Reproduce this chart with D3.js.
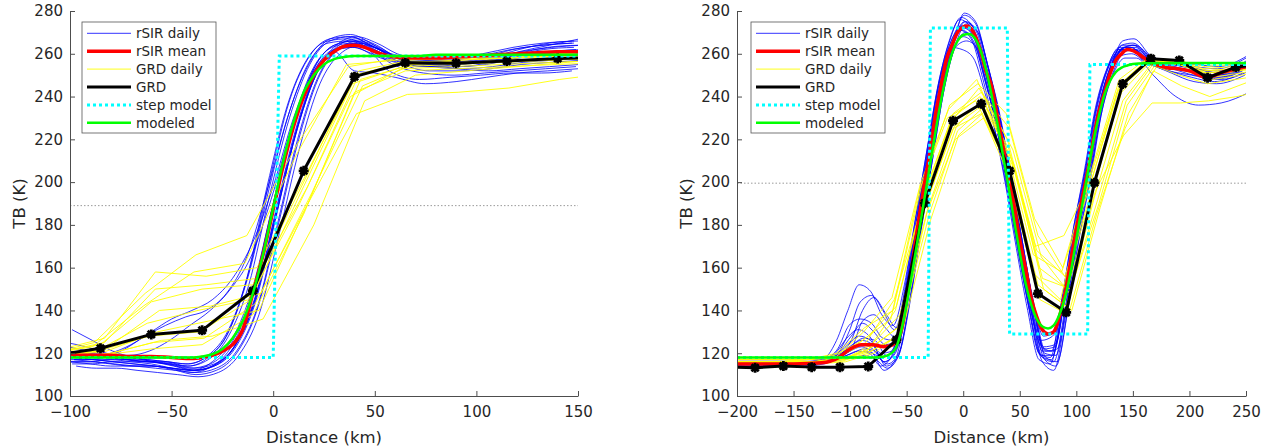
<!DOCTYPE html>
<html>
<head>
<meta charset="utf-8">
<script src="https://cdn.jsdelivr.net/npm/d3@7"></script>
<style>
  body { margin: 0; background: #fff; }
  svg { display: block; font-family: "DejaVu Sans", sans-serif; }
</style>
</head>
<body>
<svg id="chart" width="1271" height="448"></svg>
<script>
// ---- shared axis data ----
const yTicks = [100, 120, 140, 160, 180, 200, 220, 240, 260, 280];
const leftXTicks = [-100, -50, 0, 50, 100, 150];
const rightXTicks = [-200, -150, -100, -50, 0, 50, 100, 150, 200, 250];
const legendLabels = ['rSIR daily', 'rSIR mean', 'GRD daily', 'GRD', 'step model', 'modeled'];

// ---- left panel (single edge) ----
const leftThreshold = 189;
const leftStepX = [-100, 0, 3, 150];
const leftStepY = [118, 118, 259, 259];

const leftMeanX = [-100, -90, -80, -70, -60, -50, -40, -35, -30, -25, -20, -15, -10, -5, 0, 5, 10, 15, 20, 25, 30, 35, 40, 45, 50, 55, 60, 70, 80, 90, 100, 110, 120, 130, 140, 150];
const leftMeanY = [119, 119, 119, 118.5, 118.5, 118, 117.5, 118, 119, 121, 124, 131, 148, 166, 187, 208, 226, 240, 250, 257, 261, 263.5, 264, 263, 261, 259.5, 258.5, 258, 258, 258.5, 259, 259.5, 260, 260.5, 261, 261];
const leftModelY = [118, 118, 118, 118, 118, 118, 118, 118.5, 119.5, 122, 127, 135, 148, 166, 188, 210, 228, 242, 250, 255, 257.5, 258.5, 259, 259, 259, 259, 259, 259, 259.5, 259.5, 259.5, 259.5, 259.5, 259.5, 259.5, 259.5];

const leftGrdX = [-110, -85, -60, -35, -10, 15, 40, 65, 90, 115, 140, 165];
const leftGrdY = [118.7, 122.3, 128.8, 130.7, 149.2, 205.3, 249.3, 255.8, 255.6, 256.6, 257.8, 258.5];

// rSIR daily profiles, sampled on leftDailyX (shifted per day)
const leftDailyX = [-100, -90, -80, -70, -60, -50, -40, -30, -20, -10, 0, 10, 20, 30, 40, 50, 60, 75, 90, 105, 120, 135, 150];
const leftDailyShift = [1, -2, 2, 0, -1, 0, -3, 3, 1, -2, 2, -1, 0, -3, 1, 2, -2, 0];
const leftDaily = [
  [131, 126, 121, 118, 116, 114, 112, 114, 122, 143, 182, 222, 250, 264, 268, 265, 260, 257, 256, 258, 262, 265, 266],
  [125, 123, 120, 118, 117, 116, 114, 117, 128, 152, 193, 230, 255, 266, 268, 264, 259, 256, 256, 258, 262, 264, 265],
  [118, 117, 116, 115, 114, 112, 110, 112, 120, 140, 178, 218, 248, 262, 266, 263, 258, 255, 254, 256, 259, 261, 262],
  [116, 116, 117, 116, 115, 113, 111, 114, 124, 148, 188, 226, 253, 264, 266, 262, 257, 255, 255, 257, 260, 263, 264],
  [121, 120, 119, 119, 121, 126, 133, 140, 150, 165, 192, 225, 250, 261, 263, 260, 257, 256, 256, 258, 260, 261, 262],
  [119, 118, 120, 124, 130, 136, 140, 145, 155, 172, 198, 230, 252, 262, 263, 259, 256, 254, 254, 255, 258, 259, 260],
  [117, 117, 118, 122, 128, 133, 137, 140, 148, 165, 196, 230, 255, 265, 266, 263, 259, 257, 257, 259, 262, 264, 265],
  [114, 113, 113, 112, 111, 110, 109, 111, 119, 138, 176, 216, 246, 260, 264, 262, 257, 254, 253, 254, 256, 257, 258],
  [115, 115, 116, 116, 116, 115, 113, 115, 123, 145, 185, 223, 251, 263, 267, 264, 258, 255, 253, 252, 253, 254, 255],
  [120, 119, 118, 117, 116, 115, 114, 118, 130, 157, 197, 233, 256, 267, 269, 265, 259, 256, 255, 256, 259, 262, 263],
  [117, 116, 115, 114, 113, 112, 111, 113, 121, 141, 180, 220, 249, 262, 265, 262, 256, 252, 252, 253, 255, 256, 257],
  [123, 121, 119, 117, 116, 115, 113, 115, 124, 146, 186, 225, 252, 263, 265, 261, 255, 251, 250, 251, 252, 253, 254],
  [116, 115, 114, 114, 114, 113, 112, 116, 127, 151, 190, 227, 253, 264, 266, 263, 258, 256, 256, 257, 258, 260, 261],
  [119, 118, 118, 117, 116, 116, 115, 118, 128, 155, 198, 236, 258, 266, 267, 262, 252, 248, 249, 250, 251, 251, 252],
  [118, 117, 116, 115, 114, 113, 112, 114, 123, 144, 183, 222, 250, 262, 264, 261, 256, 254, 255, 257, 261, 264, 267],
  [117, 117, 117, 117, 116, 114, 112, 115, 125, 149, 187, 226, 252, 263, 265, 262, 258, 257, 257, 258, 261, 263, 264],
  [121, 120, 119, 118, 117, 116, 115, 119, 131, 158, 200, 238, 259, 267, 268, 264, 260, 258, 258, 260, 263, 265, 266],
  [116, 116, 115, 114, 114, 113, 112, 114, 122, 142, 181, 221, 249, 261, 252, 251, 249, 246, 247, 249, 251, 252, 253]
];

// GRD daily profiles, sampled on leftGrdX shifted per day
const leftGrdShift = [0, 2, -3, 4, -2, 1, 3, -4, 0, 2, -1, 5];
const leftGrdDaily = [
  [120, 124, 144, 150, 152, 200, 250, 256, 257, 258, 259, 260],
  [121, 127, 158, 156, 160, 205, 252, 257, 258, 258, 259, 260],
  [119, 125, 148, 166, 175, 218, 254, 258, 258, 259, 260, 261],
  [118, 123, 140, 142, 148, 195, 245, 255, 256, 257, 258, 259],
  [118, 121, 134, 140, 145, 190, 240, 253, 254, 255, 256, 257],
  [117, 119, 125, 127, 143, 188, 232, 241, 242, 244, 248, 251],
  [118, 121, 130, 135, 140, 192, 248, 255, 257, 258, 260, 262],
  [119, 123, 142, 158, 162, 212, 255, 257, 258, 258, 259, 259],
  [117, 119, 122, 124, 138, 185, 242, 252, 253, 254, 255, 256],
  [120, 125, 150, 152, 155, 198, 250, 256, 256, 257, 258, 258],
  [118, 121, 128, 130, 145, 196, 246, 254, 255, 256, 257, 258],
  [118, 120, 126, 128, 136, 180, 238, 250, 252, 254, 256, 258]
];

// ---- right panel (bright strip and dark strip) ----
const rightThreshold = 199.5;
const rightStepX = [-200, -31, -29, 39, 41, 110, 112, 250];
const rightStepY = [118, 118, 272, 272, 129, 129, 255, 255];

const rightMeanX = [-200, -175, -150, -125, -110, -100, -90, -80, -70, -62, -55, -50, -45, -40, -35, -30, -25, -20, -15, -10, -5, 0, 3, 8, 15, 20, 25, 30, 35, 40, 45, 50, 55, 60, 65, 70, 75, 80, 85, 90, 95, 100, 105, 110, 115, 120, 125, 130, 135, 140, 145, 150, 160, 170, 180, 190, 200, 215, 230, 250];
const rightMeanY = [115, 115, 115, 115.5, 118, 122, 124, 124, 123, 124, 130, 145, 162, 180, 197, 212, 230, 244, 257, 264, 270, 272.5, 273, 271, 262, 252, 245, 231, 217, 203, 189, 173, 160, 146, 137, 131, 129, 130, 137, 148, 163, 178, 192, 205, 220, 233, 242, 251, 257, 260, 262, 261.5, 258, 255, 253.5, 253, 252, 249, 251.5, 254];

const rightModelX = [-200, -100, -80, -70, -65, -60, -55, -50, -45, -40, -35, -30, -25, -20, -15, -10, -5, 0, 5, 10, 15, 20, 25, 30, 35, 40, 45, 50, 55, 60, 65, 70, 75, 80, 85, 90, 95, 100, 105, 110, 115, 120, 125, 130, 135, 140, 145, 150, 160, 250];
const rightModelY = [118, 118, 118, 118.5, 119.5, 122, 130, 143, 158, 174, 190, 206, 222, 237, 250, 260, 266, 268.8, 269.3, 267.5, 262, 253, 241, 228, 213, 198, 182, 167, 153, 143, 136, 132.5, 131.6, 133, 138, 146, 158, 173, 189, 204, 219, 231, 241, 247.5, 251.5, 253.5, 254.5, 255.2, 255.6, 255.7];

const rightGrdX = [-209, -184, -159, -134, -109, -84, -59, -34, -9, 16, 41, 66, 91, 116, 141, 166, 191, 216, 241, 266];
const rightGrdY = [113.5, 113.2, 114, 113.5, 113.5, 113.8, 126.3, 190.2, 228.7, 236.6, 205.3, 147.9, 139.1, 199.7, 245.9, 257.7, 256.9, 248.8, 253.8, 255];

const rightDailyX = [-200, -170, -140, -120, -110, -100, -90, -80, -70, -60, -50, -40, -30, -20, -10, 0, 10, 20, 30, 40, 50, 60, 70, 80, 90, 100, 110, 120, 130, 140, 150, 165, 185, 205, 225, 250];
const rightDailyShift = [-2, 1, 3, -1, 2, -3, 0, 1, -2, 3, 0, -1, 2, -3, 1, 0];
const rightDaily = [
  [114, 114, 115, 118, 126, 140, 152, 149, 138, 133, 152, 184, 215, 246, 266, 277, 273, 255, 232, 205, 174, 146, 124, 121, 148, 180, 206, 236, 254, 263, 263, 257, 254, 252, 250, 255],
  [116, 116, 116, 117, 119, 126, 140, 146, 139, 132, 150, 183, 214, 245, 265, 275, 271, 253, 231, 203, 172, 144, 122, 123, 150, 182, 207, 235, 253, 262, 262, 257, 255, 253, 251, 256],
  [115, 115, 115, 116, 117, 118, 119, 117, 113, 119, 144, 178, 211, 243, 264, 274, 270, 252, 230, 200, 170, 140, 118, 116, 142, 175, 203, 234, 252, 261, 262, 256, 253, 251, 248, 252],
  [117, 117, 117, 118, 122, 133, 136, 134, 127, 126, 148, 181, 213, 244, 263, 271, 266, 248, 227, 199, 168, 141, 126, 128, 146, 177, 204, 232, 250, 259, 260, 255, 253, 250, 249, 253],
  [115, 115, 115, 116, 118, 120, 122, 121, 114, 118, 143, 177, 210, 242, 262, 270, 265, 246, 224, 196, 165, 138, 117, 114, 139, 173, 202, 233, 253, 263, 264, 258, 254, 251, 249, 254],
  [116, 116, 116, 117, 120, 127, 131, 128, 120, 121, 146, 180, 212, 243, 265, 276, 272, 254, 232, 204, 173, 144, 120, 118, 144, 177, 205, 235, 253, 262, 262, 256, 252, 250, 248, 252],
  [114, 114, 114, 116, 118, 121, 123, 120, 112, 117, 142, 176, 209, 241, 261, 268, 264, 246, 225, 198, 168, 140, 116, 112, 136, 170, 200, 232, 252, 262, 264, 258, 255, 253, 252, 256],
  [117, 117, 117, 118, 121, 128, 134, 130, 124, 126, 149, 182, 214, 245, 266, 278, 274, 256, 234, 206, 176, 147, 128, 130, 151, 183, 208, 237, 255, 264, 264, 258, 255, 253, 251, 257],
  [115, 115, 115, 117, 119, 124, 128, 126, 118, 122, 147, 180, 212, 244, 264, 273, 269, 251, 229, 202, 171, 142, 119, 117, 143, 176, 204, 234, 253, 262, 263, 257, 254, 252, 250, 255],
  [116, 116, 116, 117, 118, 119, 121, 119, 115, 120, 145, 179, 211, 243, 263, 266, 262, 245, 224, 198, 168, 141, 121, 122, 149, 180, 206, 234, 251, 258, 258, 250, 240, 236, 237, 242],
  [116, 116, 116, 117, 119, 123, 126, 124, 116, 120, 146, 180, 213, 245, 265, 272, 268, 250, 228, 201, 170, 141, 118, 116, 141, 175, 204, 235, 254, 264, 265, 259, 256, 254, 253, 258],
  [115, 115, 116, 117, 120, 130, 144, 147, 140, 131, 149, 182, 213, 244, 263, 262, 258, 242, 222, 196, 166, 139, 119, 119, 145, 177, 205, 234, 252, 261, 262, 256, 251, 247, 246, 250],
  [117, 117, 117, 118, 120, 124, 127, 126, 119, 123, 148, 181, 212, 244, 265, 275, 271, 253, 231, 204, 173, 143, 120, 119, 145, 177, 205, 235, 254, 263, 263, 256, 253, 251, 250, 254],
  [114, 114, 114, 115, 117, 119, 121, 120, 114, 119, 143, 177, 210, 242, 263, 271, 267, 249, 227, 200, 169, 140, 117, 115, 140, 174, 203, 233, 252, 261, 262, 256, 252, 249, 247, 251],
  [116, 116, 116, 117, 119, 122, 135, 138, 132, 127, 147, 180, 212, 243, 264, 279, 275, 256, 233, 205, 174, 145, 123, 124, 150, 181, 207, 236, 254, 266, 267, 259, 256, 255, 254, 259],
  [115, 115, 115, 116, 118, 121, 124, 122, 116, 121, 146, 180, 212, 244, 264, 273, 270, 252, 231, 203, 172, 143, 121, 121, 147, 179, 206, 235, 253, 262, 262, 257, 254, 252, 250, 254]
];

const rightGrdShift = [0, 3, -3, 5, -5, 2, -2, 4, 0, -4, 1, -1];
const rightGrdDaily = [
  [115, 115, 115, 116, 118, 128, 142, 195, 232, 242, 225, 175, 155, 198, 245, 257, 256, 252, 253, 255],
  [116, 116, 116, 116, 117, 124, 138, 188, 226, 240, 215, 165, 148, 192, 238, 256, 255, 250, 252, 254],
  [117, 117, 117, 117, 120, 132, 140, 198, 236, 246, 232, 183, 160, 205, 248, 258, 257, 253, 254, 255],
  [115, 115, 115, 115, 116, 120, 130, 182, 222, 234, 205, 150, 140, 188, 232, 254, 252, 248, 250, 252],
  [116, 116, 116, 117, 119, 126, 136, 196, 230, 238, 212, 158, 145, 200, 242, 257, 256, 251, 252, 253],
  [116, 116, 116, 116, 117, 121, 128, 186, 220, 230, 200, 145, 138, 185, 225, 252, 245, 240, 245, 250],
  [117, 117, 117, 117, 118, 125, 145, 190, 228, 244, 220, 170, 175, 202, 246, 258, 257, 254, 255, 256],
  [115, 115, 115, 116, 117, 123, 133, 185, 224, 236, 208, 155, 150, 190, 236, 255, 253, 249, 251, 253],
  [116, 116, 116, 116, 116, 120, 128, 188, 225, 232, 206, 152, 142, 193, 238, 255, 250, 246, 248, 250],
  [116, 116, 116, 117, 118, 130, 146, 199, 234, 248, 218, 166, 158, 198, 244, 257, 256, 252, 253, 254],
  [116, 116, 116, 116, 117, 122, 132, 190, 226, 236, 212, 160, 150, 196, 222, 237, 237, 238, 240, 243],
  [116, 116, 116, 116, 117, 121, 140, 194, 230, 240, 216, 168, 156, 198, 242, 256, 255, 251, 252, 254]
];

// ---- drawing ----
const svg = d3.select('#chart');
const plotTop = 11, plotBottom = 396;
const axisColor = '#4d4d4d', textColor = '#262626';

const panels = [
  {
    id: 'left', x0: 70, x1: 578, domain: [-100, 150], xTicks: leftXTicks, legendX: 82,
    threshold: leftThreshold, stepX: leftStepX, stepY: leftStepY,
    meanX: leftMeanX, meanY: leftMeanY, modelX: leftMeanX, modelY: leftModelY,
    grdX: leftGrdX, grdY: leftGrdY, dailyX: leftDailyX, dailyShift: leftDailyShift, daily: leftDaily,
    grdShift: leftGrdShift, grdDaily: leftGrdDaily
  },
  {
    id: 'right', x0: 737, x1: 1246, domain: [-200, 250], xTicks: rightXTicks, legendX: 751,
    threshold: rightThreshold, stepX: rightStepX, stepY: rightStepY,
    meanX: rightMeanX, meanY: rightMeanY, modelX: rightModelX, modelY: rightModelY,
    grdX: rightGrdX, grdY: rightGrdY, dailyX: rightDailyX, dailyShift: rightDailyShift, daily: rightDaily,
    grdShift: rightGrdShift, grdDaily: rightGrdDaily
  }
];

// zip x and y lists into point pairs
function pairs(xs, ys) {
  return xs.map((x, i) => [x, ys[i]]);
}

// asterisk marker like matlab '*'
function starPath(r) {
  const d = r * 0.72;
  return `M${-r},0H${r}M0,${-r}V${r}M${-d},${-d}L${d},${d}M${-d},${d}L${d},${-d}`;
}

const styles = {
  daily: { stroke: '#0000ff', width: 0.8 },
  mean: { stroke: '#ff0000', width: 3.5 },
  grdDaily: { stroke: '#ffff00', width: 0.9 },
  grd: { stroke: '#000000', width: 3 },
  step: { stroke: '#00ffff', width: 3, dash: '3,3' },
  model: { stroke: '#00ff00', width: 2.5 }
};

panels.forEach(p => {
  const x = d3.scaleLinear().domain(p.domain).range([p.x0, p.x1]);
  const y = d3.scaleLinear().domain([100, 280]).range([plotBottom, plotTop]);

  const g = svg.append('g');

  svg.append('defs').append('clipPath').attr('id', 'clip-' + p.id)
    .append('rect')
    .attr('x', p.x0).attr('y', plotTop)
    .attr('width', p.x1 - p.x0).attr('height', plotBottom - plotTop);

  const plot = g.append('g').attr('clip-path', `url(#clip-${p.id})`);

  const smooth = d3.line().x(d => x(d[0])).y(d => y(d[1])).curve(d3.curveMonotoneX);
  const straight = d3.line().x(d => x(d[0])).y(d => y(d[1]));

  // threshold line (dotted grey)
  plot.append('path')
    .attr('d', straight([[p.domain[0], p.threshold], [p.domain[1], p.threshold]]))
    .attr('fill', 'none').attr('stroke', '#9a9a9a').attr('stroke-width', 1)
    .attr('stroke-dasharray', '1.5,2');

  // rSIR daily
  p.daily.forEach((vals, i) => {
    const xs = p.dailyX.map(v => v + p.dailyShift[i]);
    plot.append('path')
      .attr('d', smooth(pairs(xs, vals)))
      .attr('fill', 'none')
      .attr('stroke', styles.daily.stroke)
      .attr('stroke-width', styles.daily.width);
  });

  // GRD daily
  p.grdDaily.forEach((vals, i) => {
    const xs = p.grdX.map(v => v + p.grdShift[i]);
    plot.append('path')
      .attr('d', straight(pairs(xs, vals)))
      .attr('fill', 'none')
      .attr('stroke', styles.grdDaily.stroke)
      .attr('stroke-width', styles.grdDaily.width);
  });

  // rSIR mean
  plot.append('path')
    .attr('d', smooth(pairs(p.meanX, p.meanY)))
    .attr('fill', 'none').attr('stroke', styles.mean.stroke)
    .attr('stroke-width', styles.mean.width);

  // GRD mean with star markers
  const grdPts = pairs(p.grdX, p.grdY);
  plot.append('path')
    .attr('d', straight(grdPts))
    .attr('fill', 'none').attr('stroke', styles.grd.stroke)
    .attr('stroke-width', styles.grd.width).attr('stroke-linejoin', 'round');
  plot.selectAll('.star')
    .data(grdPts)
    .join('path')
    .attr('class', 'star')
    .attr('transform', d => `translate(${x(d[0])},${y(d[1])})`)
    .attr('d', starPath(5))
    .attr('stroke', '#000').attr('stroke-width', 2.8).attr('fill', 'none');

  // step model
  plot.append('path')
    .attr('d', straight(pairs(p.stepX, p.stepY)))
    .attr('fill', 'none').attr('stroke', styles.step.stroke)
    .attr('stroke-width', styles.step.width)
    .attr('stroke-dasharray', styles.step.dash);

  // modeled
  plot.append('path')
    .attr('d', smooth(pairs(p.modelX, p.modelY)))
    .attr('fill', 'none').attr('stroke', styles.model.stroke)
    .attr('stroke-width', styles.model.width);

  // axes (matlab style: inward ticks, box off)
  const xAxis = g.append('g')
    .attr('transform', `translate(0,${plotBottom})`)
    .call(d3.axisBottom(x).tickValues(p.xTicks).tickSizeInner(-5).tickSizeOuter(0).tickPadding(10));
  const yAxis = g.append('g')
    .attr('transform', `translate(${p.x0},0)`)
    .call(d3.axisLeft(y).tickValues(yTicks).tickSizeInner(-5).tickSizeOuter(0).tickPadding(7));

  [xAxis, yAxis].forEach(a => {
    a.select('.domain').attr('stroke', axisColor).attr('stroke-width', 1);
    a.selectAll('.tick line').attr('stroke', axisColor).attr('stroke-width', 1);
    a.selectAll('.tick text')
      .attr('fill', textColor)
      .style('font-size', '15px')
      .style('font-family', '"DejaVu Sans", sans-serif');
  });

  g.append('text')
    .attr('x', (p.x0 + p.x1) / 2).attr('y', 437)
    .attr('text-anchor', 'middle').attr('dy', '0.35em')
    .attr('fill', textColor).style('font-size', '16.5px')
    .text('Distance (km)');

  g.append('text')
    .attr('transform', `translate(${p.x0 - 51},${(plotTop + plotBottom) / 2}) rotate(-90)`)
    .attr('text-anchor', 'middle').attr('dy', '0.35em')
    .attr('fill', textColor).style('font-size', '16.5px')
    .text('TB (K)');

  // legend
  const lg = g.append('g').attr('transform', `translate(${p.legendX},22)`);
  lg.append('rect')
    .attr('width', 134).attr('height', 111)
    .attr('fill', '#fff').attr('stroke', '#555').attr('stroke-width', 0.8);

  const keys = ['daily', 'mean', 'grdDaily', 'grd', 'step', 'model'];
  legendLabels.forEach((label, i) => {
    const s = styles[keys[i]];
    const ly = 11.3 + i * 17.9;
    lg.append('line')
      .attr('x1', 5).attr('x2', 49).attr('y1', ly).attr('y2', ly)
      .attr('stroke', s.stroke).attr('stroke-width', s.width)
      .attr('stroke-dasharray', s.dash || null);
    lg.append('text')
      .attr('x', 54).attr('y', ly).attr('dy', '0.35em')
      .attr('fill', textColor).style('font-size', '13.5px')
      .text(label);
  });
});
</script>
</body>
</html>
